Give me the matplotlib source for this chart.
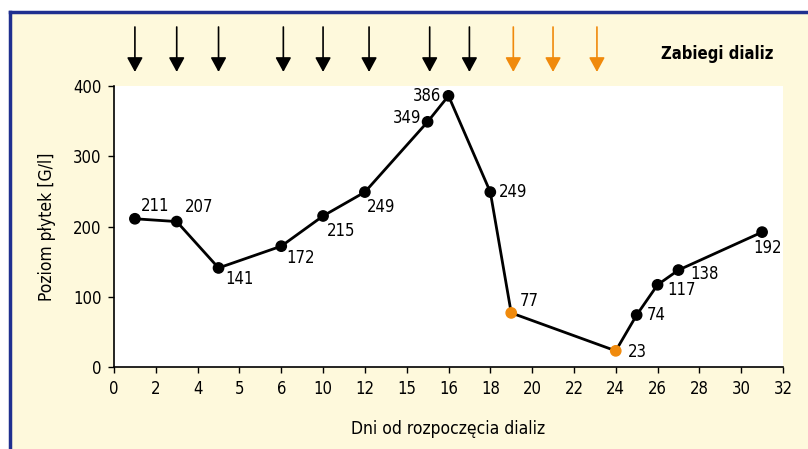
import matplotlib
matplotlib.use("Agg")
import matplotlib.pyplot as plt
from matplotlib import font_manager
from matplotlib.patches import Rectangle
from matplotlib.lines import Line2D

names = {f.name for f in font_manager.fontManager.ttflist}
FONT = "Liberation Sans Narrow" if "Liberation Sans Narrow" in names else "DejaVu Sans"
plt.rcParams["font.family"] = [FONT, "DejaVu Sans"]
plt.rcParams["font.stretch"] = "condensed"

# Axis slots (equally spaced) and their day labels
tick_labels = ["0", "2", "4", "5", "6", "10", "12", "15", "16", "18",
               "20", "22", "24", "26", "28", "30", "32"]
# Measurement positions along the slot axis and platelet counts [G/l]
pos = [0.5, 1.5, 2.5, 4.0, 5.0, 6.0, 7.5, 8.0, 9.0, 9.5, 12.0, 12.5, 13.0, 13.5, 15.5]
platelets = [211, 207, 141, 172, 215, 249, 349, 386, 249, 77, 23, 74, 117, 138, 192]
highlighted = [False] * 9 + [True, True] + [False] * 4
# Dialysis sessions along the slot axis
dialysis_black = [0.5, 1.5, 2.5, 4.05, 5.0, 6.1, 7.55, 8.5]
dialysis_orange = [9.55, 10.5, 11.55]

# Label offsets in pixels (dx, dy) and horizontal alignment per point
label_offsets = [(6, 13, "left"), (8, 15, "left"), (7, -11, "left"), (5, -12, "left"),
                 (4, -15, "left"), (2, -15, "left"), (-6, 4, "right"), (-7, 0, "right"),
                 (9, 0, "left"), (9, 12, "left"), (12, -1, "left"), (10, 0, "left"),
                 (10, -5, "left"), (12, -4, "left"), (-9, -16, "left")]

ORANGE = "#F08A0C"
CREAM = "#FEF9DC"
BLUE = "#1F2F8F"

fig = plt.figure(figsize=(8.08, 4.49), dpi=100)
fig.patch.set_facecolor(CREAM)
# white margin outside the framed panel
fig.patches.append(Rectangle((0, 1 - 12 / 449), 1, 12 / 449, transform=fig.transFigure,
                             facecolor="white", edgecolor="none", zorder=0))
fig.patches.append(Rectangle((0, 0), 9 / 808, 1, transform=fig.transFigure,
                             facecolor="white", edgecolor="none", zorder=0))
fig.lines.append(Line2D([10 / 808, 10 / 808], [0, 1 - 12 / 449], transform=fig.transFigure,
                        color=BLUE, lw=2.5))
fig.lines.append(Line2D([10 / 808, 1], [1 - 12 / 449, 1 - 12 / 449], transform=fig.transFigure,
                        color=BLUE, lw=2.5))

ax = fig.add_axes([114 / 808, 1 - 367 / 449, (783 - 114) / 808, (367 - 86) / 449])
ax.set_zorder(2)
ax.set_facecolor("white")
ax.set_xlim(0, 16)
ax.set_ylim(0, 400)
ax.set_xticks(range(len(tick_labels)))
ax.set_xticklabels(tick_labels)
ax.set_yticks([0, 100, 200, 300, 400])
ax.tick_params(axis="both", labelsize=12, direction="out", length=4, width=1, pad=5)
for s in ["top", "right"]:
    ax.spines[s].set_visible(False)
for s in ["left", "bottom"]:
    ax.spines[s].set_linewidth(1.2)

ax.plot(pos, platelets, color="black", lw=2, zorder=2, clip_on=False)
colors = [ORANGE if h else "black" for h in highlighted]
ax.scatter(pos, platelets, s=55, c=colors, zorder=3, clip_on=False)

for p, v, (dx, dy, ha) in zip(pos, platelets, label_offsets):
    ax.annotate(str(v), (p, v), xytext=(dx, dy), textcoords="offset pixels",
                ha=ha, va="center", fontsize=12)

ax.set_xlabel("Dni od rozpoczęcia dializ", fontsize=12.5, labelpad=16)
ax.set_ylabel("Poziom płytek [G/l]", fontsize=12.5, labelpad=12)

# dialysis arrows above the plot
for xs, c in [(dialysis_black, "black"), (dialysis_orange, ORANGE)]:
    for x in xs:
        ax.annotate("", xy=(x, 1.05), xycoords=("data", "axes fraction"),
                    xytext=(x, 1.21), textcoords=("data", "axes fraction"),
                    arrowprops=dict(arrowstyle="-|>,head_length=0.55,head_width=0.3",
                                    color=c, lw=1.2, mutation_scale=16,
                                    shrinkA=0, shrinkB=0),
                    annotation_clip=False)
fig.text(717 / 808, 1 - 54 / 449, "Zabiegi dializ", fontsize=12, fontweight="bold",
         ha="center", va="center")

fig.savefig("out.png", dpi=100, facecolor=fig.get_facecolor())
